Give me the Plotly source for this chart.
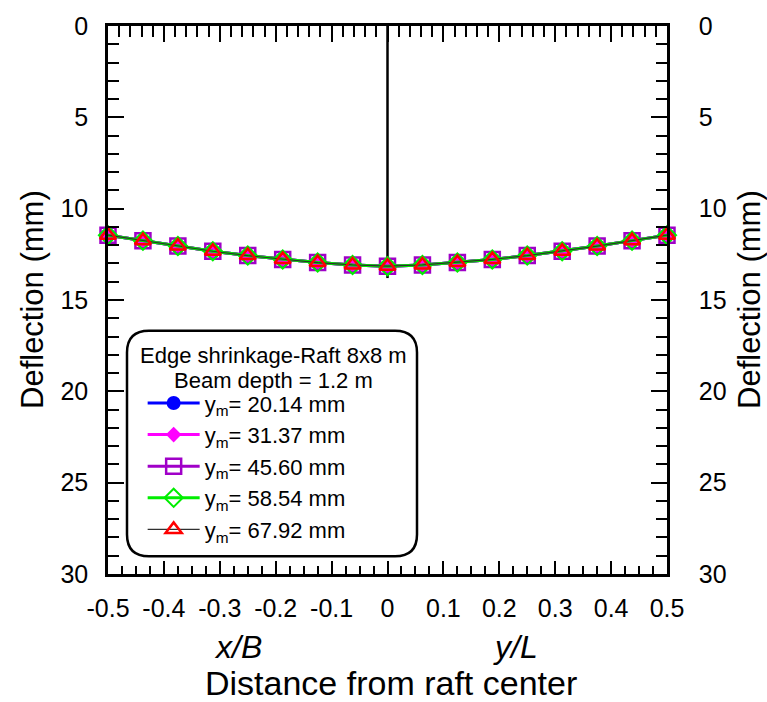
import plotly.graph_objects as go

# ---- data ----
x_pos = [-0.5, -0.4375, -0.375, -0.3125, -0.25, -0.1875, -0.125, -0.0625, 0.0,
         0.0625, 0.125, 0.1875, 0.25, 0.3125, 0.375, 0.4375, 0.5]
defl_2014 = [11.45, 11.75, 12.05, 12.33, 12.57, 12.78, 12.95, 13.08, 13.15,
             13.08, 12.95, 12.78, 12.57, 12.33, 12.05, 11.75, 11.45]
defl_3137 = [11.45, 11.75, 12.05, 12.33, 12.57, 12.78, 12.95, 13.08, 13.15,
             13.08, 12.95, 12.78, 12.57, 12.33, 12.05, 11.75, 11.45]
defl_4560 = [11.45, 11.75, 12.05, 12.33, 12.57, 12.78, 12.95, 13.08, 13.15,
             13.08, 12.95, 12.78, 12.57, 12.33, 12.05, 11.75, 11.45]
defl_5854 = [11.45, 11.75, 12.05, 12.33, 12.57, 12.78, 12.95, 13.08, 13.15,
             13.08, 12.95, 12.78, 12.57, 12.33, 12.05, 11.75, 11.45]
defl_6792 = [11.45, 11.75, 12.05, 12.33, 12.57, 12.78, 12.95, 13.08, 13.15,
             13.08, 12.95, 12.78, 12.57, 12.33, 12.05, 11.75, 11.45]
series_names = ["y<sub>m</sub>= 20.14 mm", "y<sub>m</sub>= 31.37 mm",
                "y<sub>m</sub>= 45.60 mm", "y<sub>m</sub>= 58.54 mm",
                "y<sub>m</sub>= 67.92 mm"]
legend_title_lines = ["Edge shrinkage-Raft 8x8 m", "Beam depth = 1.2 m"]
center_line_x = [0.0, 0.0]
center_line_y = [0.0, 13.8]
x_ticks = [-0.5, -0.4, -0.3, -0.2, -0.1, 0, 0.1, 0.2, 0.3, 0.4, 0.5]
x_ticklabels = ["-0.5", "-0.4", "-0.3", "-0.2", "-0.1", "0", "0.1", "0.2", "0.3", "0.4", "0.5"]
y_ticks = [0, 5, 10, 15, 20, 25, 30]

FONT = "Arial, Liberation Sans, sans-serif"

styles = [
    dict(line=dict(color="#0000ff", width=3),
         marker=dict(symbol="circle", size=14, color="#0000ff")),
    dict(line=dict(color="#ff00ff", width=3),
         marker=dict(symbol="diamond", size=12, color="#ff00ff")),
    dict(line=dict(color="#a000c8", width=3),
         marker=dict(symbol="square-open", size=15, color="#a000c8", line=dict(width=2.5))),
    dict(line=dict(color="#00ee00", width=3),
         marker=dict(symbol="diamond-open", size=14, color="#00ee00", line=dict(width=2))),
    dict(line=dict(color="#303030", width=1.2),
         marker=dict(symbol="triangle-up-open", size=14, color="#ff0000", line=dict(width=2.5))),
]
all_series = [defl_2014, defl_3137, defl_4560, defl_5854, defl_6792]

fig = go.Figure()
fig.add_trace(go.Scatter(x=center_line_x, y=center_line_y, mode="lines",
                         line=dict(color="black", width=2.5), showlegend=False,
                         hoverinfo="skip"))
for name, vals, st in zip(series_names, all_series, styles):
    fig.add_trace(go.Scatter(x=x_pos, y=vals, mode="lines+markers", name=name,
                             cliponaxis=False, **st))

# invisible trace on top axis / right axis to activate them
fig.add_trace(go.Scatter(x=[x_pos[0]], y=[defl_2014[0]], xaxis="x2", yaxis="y2",
                         mode="markers", marker=dict(opacity=0), showlegend=False,
                         hoverinfo="skip"))

axis_common = dict(showgrid=False, zeroline=False, showline=True, linecolor="black",
                   linewidth=2.5, ticks="inside", tickcolor="black", tickwidth=2)
TICKSIZE = 25

fig.update_layout(
    width=767, height=702,
    margin=dict(l=108, r=100, t=20, b=128),
    paper_bgcolor="white", plot_bgcolor="white",
    font=dict(family=FONT, color="black"),
    xaxis=dict(range=[-0.5, 0.5], tickvals=x_ticks, ticktext=x_ticklabels,
               ticklen=13, tickfont=dict(family=FONT, size=TICKSIZE),
               ticklabelstandoff=10,
               minor=dict(dtick=0.025, tick0=0, ticklen=8, tickwidth=2,
                          ticks="inside", tickcolor="black"),
               **axis_common),
    xaxis2=dict(range=[-0.5, 0.5], overlaying="x", side="top",
                tickvals=x_ticks, showticklabels=False, ticklen=16,
                minor=dict(dtick=0.02, tick0=0, ticklen=11, tickwidth=2,
                           ticks="inside", tickcolor="black"),
                **axis_common),
    yaxis=dict(range=[30, 0], tickvals=y_ticks, ticklen=16,
               tickfont=dict(family=FONT, size=TICKSIZE), ticklabelstandoff=12,
               minor=dict(dtick=1, tick0=0, ticklen=11, tickwidth=2,
                          ticks="inside", tickcolor="black"),
               **axis_common),
    yaxis2=dict(range=[30, 0], overlaying="y", side="right", tickvals=y_ticks,
                ticklen=16, tickfont=dict(family=FONT, size=TICKSIZE),
                ticklabelstandoff=24,
                minor=dict(dtick=1, tick0=0, ticklen=11, tickwidth=2,
                           ticks="inside", tickcolor="black"),
                **axis_common),
    legend=dict(x=0.062, y=0.35, xanchor="left", yanchor="top",
                bgcolor="rgba(0,0,0,0)", borderwidth=0,
                font=dict(family=FONT, size=22),
                itemwidth=52, tracegroupgap=0),
)

# rounded legend frame
W, H = 559, 554
def px(xp):
    return (xp - 108) / W
def py(yp):
    return (574 - yp) / H
x0, x1, y0, y1, r = 127, 417, 328, 556, 22
path = (f"M {px(x0 + r)},{py(y0)} L {px(x1 - r)},{py(y0)} "
        f"Q {px(x1)},{py(y0)} {px(x1)},{py(y0 + r)} "
        f"L {px(x1)},{py(y1 - r)} Q {px(x1)},{py(y1)} {px(x1 - r)},{py(y1)} "
        f"L {px(x0 + r)},{py(y1)} Q {px(x0)},{py(y1)} {px(x0)},{py(y1 - r)} "
        f"L {px(x0)},{py(y0 + r)} Q {px(x0)},{py(y0)} {px(x0 + r)},{py(y0)} Z")
fig.add_shape(type="path", path=path, xref="paper", yref="paper",
              line=dict(color="black", width=2.5), fillcolor="white", layer="above")

annos = [
    dict(text="Deflection (mm)", x=px(32), y=py(297), textangle=-90, size=31),
    dict(text="Deflection (mm)", x=px(749), y=py(297), textangle=-90, size=31),
    dict(text="Distance from raft center", x=px(391), y=py(684), textangle=0, size=34),
    dict(text="<i>x/B</i>", x=px(238), y=py(648), textangle=0, size=32),
    dict(text="<i>y/L</i>", x=px(515), y=py(648), textangle=0, size=32),
    dict(text=legend_title_lines[0], x=px(273), y=py(353), textangle=0, size=22),
    dict(text=legend_title_lines[1], x=px(273), y=py(378), textangle=0, size=22),
]
for a in annos:
    fig.add_annotation(text=a["text"], x=a["x"], y=a["y"], xref="paper", yref="paper",
                       showarrow=False, textangle=a["textangle"],
                       xanchor="center", yanchor="middle",
                       font=dict(family=FONT, size=a["size"], color="black"))

fig.write_html("out.html")
